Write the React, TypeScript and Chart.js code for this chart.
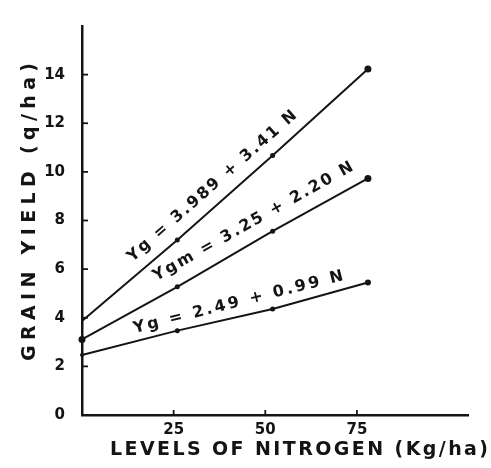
import React, { useEffect, useRef } from "react";
import { Chart, registerables } from "chart.js";

Chart.register(...registerables);

// ---- data ----
const nitrogenLevels = [0, 26, 52, 78];
const yieldYg1 = [3.87, 7.2, 10.67, 14.23];
const yieldYgm = [3.11, 5.27, 7.56, 9.73];
const yieldYg2 = [2.47, 3.47, 4.36, 5.45];
const equationLabels = [
  "Yg = 3.989 + 3.41 N",
  "Ygm = 3.25 + 2.20 N",
  "Yg = 2.49 + 0.99 N",
];
const xTickValues = [25, 50, 75];
const yTickValues = [0, 2, 4, 6, 8, 10, 12, 14];
const xAxisTitle = "LEVELS OF NITROGEN (Kg/ha)";
const yAxisTitle = "GRAIN YIELD (q/ha)";

// ---- styling / placement ----
const FONT_FAMILY = '"DejaVu Sans", sans-serif';
const INK = "#141414";

const labelPlacement = [
  { at: 38.6, offset: 17, length: 220 },
  { at: 49.1, offset: 18, length: 227 },
  { at: 43.6, offset: 14, length: 216 },
];

function drawSpaced(
  ctx: CanvasRenderingContext2D,
  text: string,
  cx: number,
  cy: number,
  angle: number,
  length: number,
  font: string
) {
  ctx.save();
  ctx.font = font;
  (ctx as any).letterSpacing = "0px";
  const w0 = ctx.measureText(text).width;
  const n = Array.from(text).length;
  const s = n > 1 ? (length - w0) / (n - 1) : 0;
  (ctx as any).letterSpacing = s + "px";
  ctx.translate(cx, cy);
  ctx.rotate(angle);
  ctx.textAlign = "left";
  ctx.textBaseline = "middle";
  ctx.fillStyle = INK;
  ctx.fillText(text, -length / 2, 0);
  ctx.restore();
}

const annotatePlugin = {
  id: "annotate",
  afterDatasetsDraw(chart: any) {
    const ctx: CanvasRenderingContext2D = chart.ctx;
    const xs = chart.scales.x;
    const ys = chart.scales.y;
    const area = chart.chartArea;

    // inward tick marks
    ctx.save();
    ctx.strokeStyle = INK;
    ctx.lineWidth = 1.8;
    xTickValues.forEach((v) => {
      const px = xs.getPixelForValue(v);
      ctx.beginPath();
      ctx.moveTo(px, area.bottom);
      ctx.lineTo(px, area.bottom - 5);
      ctx.stroke();
    });
    yTickValues.slice(1).forEach((v) => {
      const py = ys.getPixelForValue(v);
      ctx.beginPath();
      ctx.moveTo(area.left - 1, py);
      ctx.lineTo(area.left + 6, py);
      ctx.stroke();
    });
    ctx.restore();

    // equation labels along each line
    chart.data.datasets.forEach((ds: any, i: number) => {
      const pts = ds.data as { x: number; y: number }[];
      const place = labelPlacement[i];
      let yv = pts[pts.length - 1].y;
      for (let k = 0; k < pts.length - 1; k++) {
        if (place.at >= pts[k].x && place.at <= pts[k + 1].x) {
          const t = (place.at - pts[k].x) / (pts[k + 1].x - pts[k].x);
          yv = pts[k].y + t * (pts[k + 1].y - pts[k].y);
          break;
        }
      }
      const p0x = xs.getPixelForValue(pts[0].x);
      const p0y = ys.getPixelForValue(pts[0].y);
      const p1x = xs.getPixelForValue(pts[pts.length - 1].x);
      const p1y = ys.getPixelForValue(pts[pts.length - 1].y);
      const ang = Math.atan2(p1y - p0y, p1x - p0x);
      const ax = xs.getPixelForValue(place.at);
      const ay = ys.getPixelForValue(yv);
      const cx = ax + Math.sin(ang) * place.offset;
      const cy = ay - Math.cos(ang) * place.offset;
      drawSpaced(ctx, equationLabels[i], cx, cy, ang, place.length, `bold 16px ${FONT_FAMILY}`);
    });

    // axis titles
    drawSpaced(ctx, xAxisTitle, 299, 450, 0, 378, `bold 19px ${FONT_FAMILY}`);
    drawSpaced(ctx, yAxisTitle, 30, 212, -Math.PI / 2, 298, `bold 19px ${FONT_FAMILY}`);
  },
};

export default function App() {
  const canvasRef = useRef<HTMLCanvasElement | null>(null);

  useEffect(() => {
    if (!canvasRef.current) return;
    const mk = (ys: number[]) => nitrogenLevels.map((x, i) => ({ x, y: ys[i] }));
    const common = {
      borderColor: INK,
      borderWidth: 2,
      pointBackgroundColor: INK,
      pointBorderColor: INK,
      pointBorderWidth: 0,
      tension: 0,
      clip: false as any,
      fill: false,
    };
    const chart = new Chart(canvasRef.current, {
      type: "line",
      data: {
        datasets: [
          { ...common, label: equationLabels[0], data: mk(yieldYg1), pointRadius: [0, 2.5, 2.5, 3.5] },
          { ...common, label: equationLabels[1], data: mk(yieldYgm), pointRadius: [3.5, 2.5, 2.5, 3.5] },
          { ...common, label: equationLabels[2], data: mk(yieldYg2), pointRadius: [2, 2.5, 2.5, 3] },
        ] as any,
      },
      options: {
        animation: false,
        responsive: true,
        maintainAspectRatio: false,
        layout: { padding: { top: 15, right: 23, left: 0, bottom: 0 } },
        plugins: { legend: { display: false }, tooltip: { enabled: false } },
        scales: {
          x: {
            type: "linear",
            min: 0,
            max: 105.3,
            afterFit: (s: any) => {
              s.height = 53;
            },
            afterBuildTicks: (s: any) => {
              s.ticks = xTickValues.map((v) => ({ value: v }));
            },
            grid: { display: false, drawTicks: false },
            border: { display: true, color: INK, width: 2.5 },
            ticks: {
              color: INK,
              font: { family: FONT_FAMILY, size: 15, weight: "bold" },
              padding: 6,
              maxRotation: 0,
              autoSkip: false,
            },
          },
          y: {
            type: "linear",
            min: 0,
            max: 16,
            afterFit: (s: any) => {
              s.width = 82;
            },
            afterBuildTicks: (s: any) => {
              s.ticks = yTickValues.map((v) => ({ value: v }));
            },
            grid: { display: false, drawTicks: false },
            border: { display: true, color: INK, width: 2.5 },
            ticks: {
              color: INK,
              font: { family: FONT_FAMILY, size: 15, weight: "bold" },
              padding: 17,
              autoSkip: false,
            },
          },
        },
      } as any,
      plugins: [annotatePlugin],
    });
    return () => chart.destroy();
  }, []);

  return (
    <div
      style={{
        position: "absolute",
        left: 0,
        top: 0,
        width: 491,
        height: 468,
        background: "#ffffff",
      }}
    >
      <canvas ref={canvasRef} />
    </div>
  );
}
